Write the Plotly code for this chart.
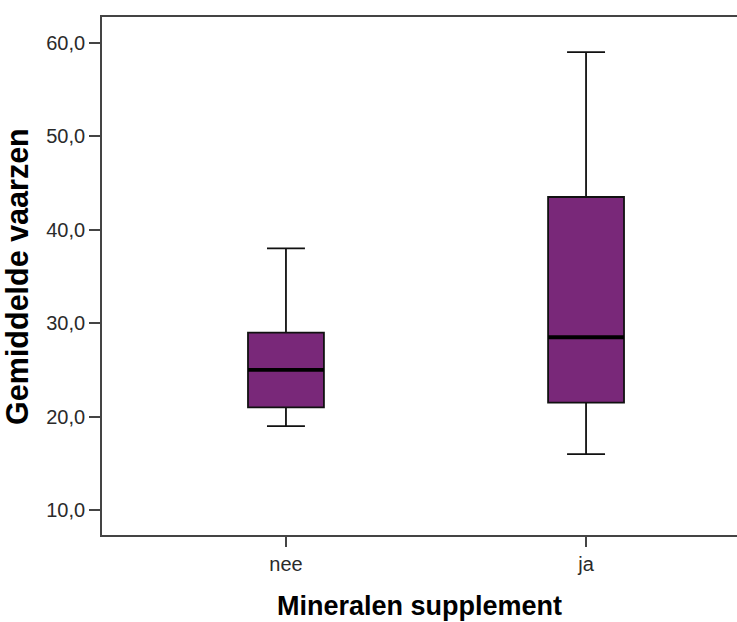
import plotly.graph_objects as go

categories = ["nee", "ja"]
lower_whisker = [19.0, 16.0]
q1 = [21.0, 21.5]
median = [25.0, 28.5]
q3 = [29.0, 43.5]
upper_whisker = [38.0, 59.0]
y_ticks = [10, 20, 30, 40, 50, 60]

x_title = "Mineralen supplement"
y_title = "Gemiddelde vaarzen"

box_color = "#792879"
line_color = "#111111"
box_w = 0.253

fig = go.Figure()
xs = list(range(len(categories)))
fig.add_trace(go.Box(
    x=xs, q1=q1, median=median, q3=q3,
    lowerfence=lower_whisker, upperfence=upper_whisker,
    width=box_w, whiskerwidth=0.5,
    fillcolor=box_color, line=dict(color=line_color, width=1.8),
    boxpoints=False, showlegend=False, hoverinfo="skip",
))
for i, m in zip(xs, median):
    fig.add_trace(go.Scatter(
        x=[i - box_w / 2, i + box_w / 2], y=[m, m], mode="lines",
        line=dict(color="#000000", width=3.8), showlegend=False, hoverinfo="skip",
    ))

axis_line = "#444444"
font_fam = "Liberation Sans, Arial"
fig.update_layout(
    width=737, height=622,
    margin=dict(l=102, r=0, t=17, b=87),
    plot_bgcolor="white", paper_bgcolor="white",
    separators=",.",
    font=dict(family=font_fam, color="#333333"),
    xaxis=dict(
        range=[-0.613, 1.503], tickvals=xs, ticktext=categories,
        showgrid=False, zeroline=False, showline=True, linecolor=axis_line,
        linewidth=1.8, mirror=True, ticks="outside", ticklen=10, tickwidth=1.5,
        tickcolor=axis_line, tickfont=dict(size=20, color="#2a2a2a"),
        ticklabelstandoff=0,
    ),
    yaxis=dict(
        range=[7.35, 62.75], tickvals=y_ticks, tickformat=".1f",
        showgrid=False, zeroline=False, showline=True, linecolor=axis_line,
        linewidth=1.8, mirror=False, ticks="outside", ticklen=11, tickwidth=1.5,
        tickcolor=axis_line, tickfont=dict(size=20, color="#2a2a2a"),
        ticklabelstandoff=0,
    ),
    annotations=[
        dict(text="<b>" + x_title + "</b>", xref="paper", yref="paper",
             x=0.5, y=-0.138, xanchor="center", yanchor="middle", showarrow=False,
             font=dict(size=27, color="#000000", family=font_fam)),
        dict(text="<b>" + y_title + "</b>", xref="paper", yref="paper",
             x=-0.134, y=0.5, xanchor="center", yanchor="middle", showarrow=False,
             textangle=-90,
             font=dict(size=30.5, color="#000000", family=font_fam)),
    ],
)

fig.write_html("out.html")
